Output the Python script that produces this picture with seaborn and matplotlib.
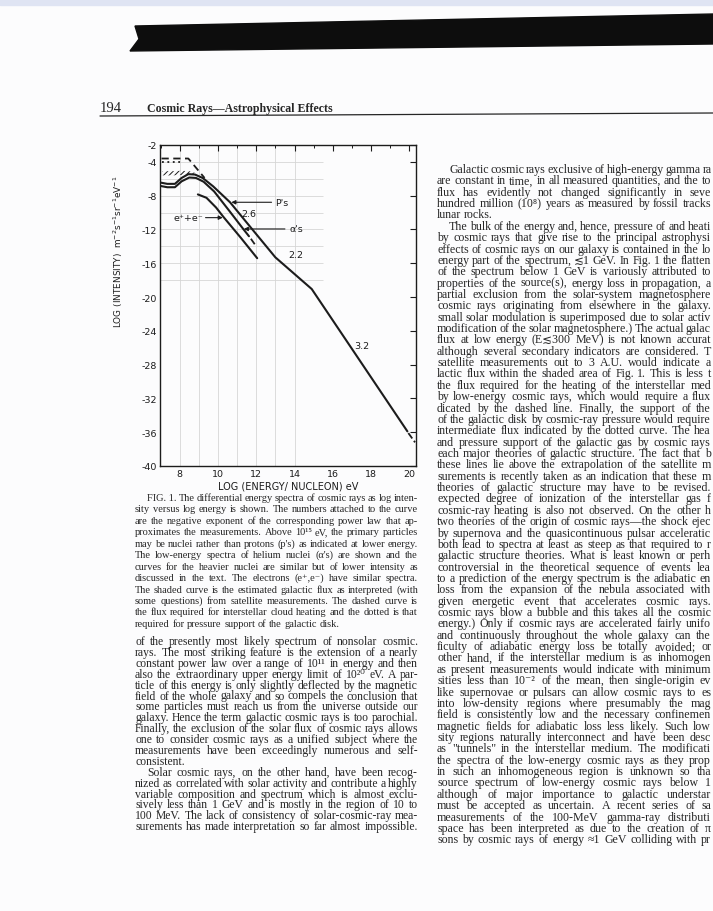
import matplotlib
matplotlib.use("Agg")
import matplotlib.pyplot as plt
import seaborn as sns
from matplotlib.patches import Polygon, Rectangle
from matplotlib.lines import Line2D

# ---- chart data (log10 energy per nucleon, log10 intensity) ----
protons_x = [7.0, 7.35, 7.75, 8.1, 8.45, 8.8, 9.2, 9.75, 10.63, 11.49, 13.0, 14.9, 19.9]
protons_y = [-6.45, -6.6, -6.6, -5.9, -5.45, -5.5, -5.9, -6.9, -8.78, -11.15, -15.3, -19.05, -35.9]
protons_ext_x = [19.95, 20.3]
protons_ext_y = [-36.1, -37.2]

alphas_x = [7.0, 7.35, 7.75, 8.1, 8.5, 8.85, 9.25, 9.8, 10.6, 11.32, 11.62]
alphas_y = [-6.85, -7.0, -7.0, -6.3, -5.85, -5.9, -6.35, -7.5, -9.82, -11.94, -12.8]
alphas_ext_x = [11.72, 12.0]
alphas_ext_y = [-13.1, -14.0]

electrons_x = [8.95, 9.4, 9.9, 10.28, 11.2, 12.05]
electrons_y = [-7.85, -8.25, -9.4, -10.5, -13.0, -15.4]

shade_x = [7.1, 7.6, 8.1, 8.5, 8.8]
shade_top = [-5.1, -5.1, -5.05, -5.1, -5.3]
shade_bot = [-5.6, -5.6, -5.55, -5.45, -5.4]

heating_x = [7.05, 8.45, 9.3]        # dashed
heating_y = [-3.6, -3.6, -5.9]
pressure_x = [7.05, 8.1]             # dotted
pressure_y = [-4.05, -4.05]

xtick_vals = [8, 10, 12, 14, 16, 18, 20]
ytick_vals = [-2, -4, -8, -12, -16, -20, -24, -28, -32, -36, -40]

# ---- page text ----
caption = [
    "FIG.\u00a01.  The differential energy spectra of cosmic rays as log inten-",
    "sity versus log energy is shown. The numbers attached to the curve",
    "are the negative exponent of the corresponding power law that ap-",
    "proximates the measurements. Above 10\u00b9\u2075 eV, the primary particles",
    "may be nuclei rather than protons (p's) as indicated at lower energy.",
    "The low-energy spectra of helium nuclei (\u03b1's) are shown and the",
    "curves for the heavier nuclei are similar but of lower intensity as",
    "discussed in the text. The electrons (e\u207a,e\u207b) have similar spectra.",
    "The shaded curve is the estimated galactic flux as interpreted (with",
    "some questions) from satellite measurements. The dashed curve is",
    "the flux required for interstellar cloud heating and the dotted is that",
    "required for pressure support of the galactic disk.",
]
body_left = [
    "of the presently most likely spectrum of nonsolar cosmic.",
    "rays. The most striking feature is the extension of a nearly",
    "constant power law over a range of 10\u00b9\u00b9 in energy and then",
    "also the extraordinary upper energy limit of 10\u00b2\u2070 eV. A par-",
    "ticle of this energy is only slightly deflected by the magnetic",
    "field of the whole galaxy and so compels the conclusion that",
    "some particles must reach us from the universe outside our",
    "galaxy. Hence the term galactic cosmic rays is too parochial.",
    "Finally, the exclusion of the solar flux of cosmic rays allows",
    "one to consider cosmic rays as a unified subject where the",
    "measurements have been exceedingly numerous and self-",
    "consistent.",
    "Solar cosmic rays, on the other hand, have been recog-",
    "nized as correlated with solar activity and contribute a highly",
    "variable composition and spectrum which is almost exclu-",
    "sively less than 1 GeV and is mostly in the region of 10 to",
    "100 MeV. The lack of consistency of solar-cosmic-ray mea-",
    "surements has made interpretation so far almost impossible.",
]
body_right = [
    "Galactic cosmic rays exclusive of high-energy gamma ra",
    "are constant in time, in all measured quantities, and the to",
    "flux has evidently not changed significantly in seve",
    "hundred million (10\u2078) years as measured by fossil tracks",
    "lunar rocks.",
    "The bulk of the energy and, hence, pressure of and heati",
    "by cosmic rays that give rise to the principal astrophysi",
    "effects of cosmic rays on our galaxy is contained in the lo",
    "energy part of the spectrum, \u22721 GeV. In Fig. 1 the flatten",
    "of the spectrum below 1 GeV is variously attributed to",
    "properties of the source(s), energy loss in propagation, a",
    "partial exclusion from the solar-system magnetosphere",
    "cosmic rays originating from elsewhere in the galaxy.",
    "small solar modulation is superimposed due to solar activ",
    "modification of the solar magnetosphere.) The actual galac",
    "flux at low energy (E\u2272300 MeV) is not known accurat",
    "although several secondary indicators are considered. T",
    "satellite measurements out to 3 A.U. would indicate a",
    "lactic flux within the shaded area of Fig. 1. This is less t",
    "the flux required for the heating of the interstellar med",
    "by low-energy cosmic rays, which would require a flux",
    "dicated by the dashed line. Finally, the support of the",
    "of the galactic disk by cosmic-ray pressure would require",
    "intermediate flux indicated by the dotted curve. The hea",
    "and pressure support of the galactic gas by cosmic rays",
    "each major theories of galactic structure. The fact that b",
    "these lines lie above the extrapolation of the satellite m",
    "surements is recently taken as an indication that these m",
    "theories of galactic structure may have to be revised.",
    "expected degree of ionization of the interstellar gas f",
    "cosmic-ray heating is also not observed. On the other h",
    "two theories of the origin of cosmic rays\u2014the shock ejec",
    "by supernova and the quasicontinuous pulsar acceleratic",
    "both lead to spectra at least as steep as that required to r",
    "galactic structure theories. What is least known or perh",
    "controversial in the theoretical sequence of events lea",
    "to a prediction of the energy spectrum is the adiabatic en",
    "loss from the expansion of the nebula associated with",
    "given energetic event that accelerates cosmic rays.",
    "cosmic rays blow a bubble and this takes all the cosmic",
    "energy.) Only if cosmic rays are accelerated fairly unifo",
    "and continuously throughout the whole galaxy can the",
    "ficulty of adiabatic energy loss be totally avoided; or",
    "other hand, if the interstellar medium is as inhomogen",
    "as present measurements would indicate with minimum",
    "sities less than 10\u207b\u00b2 of the mean, then single-origin ev",
    "like supernovae or pulsars can allow cosmic rays to es",
    "into low-density regions where presumably the mag",
    "field is consistently low and the necessary confinemen",
    "magnetic fields for adiabatic loss less likely. Such low",
    "sity regions naturally interconnect and have been desc",
    "as \"tunnels\" in the interstellar medium. The modificati",
    "the spectra of the low-energy cosmic rays as they prop",
    "in such an inhomogeneous region is unknown so tha",
    "source spectrum of low-energy cosmic rays below 1",
    "although of major importance to galactic understar",
    "must be accepted as uncertain. A recent series of sa",
    "measurements of the 100-MeV gamma-ray distributi",
    "space has been interpreted as due to the creation of \u03c0",
    "sons by cosmic rays of energy \u22481 GeV colliding with pr",
]

W, H = 713, 912
INK = "#1c1c1c"
TXT = "#262626"
SERIF = ["Liberation Serif", "DejaVu Serif", "DejaVu Sans"]


def fx(x):
    return x / W


def fy(y):
    return 1 - y / H


sns.set_style("white")
plt.rcParams["font.family"] = ["DejaVu Sans"]
plt.rcParams["hatch.linewidth"] = 0.7

fig = plt.figure(figsize=(W / 100, H / 100), dpi=100, facecolor="#fcfcfd")
renderer = fig.canvas.get_renderer()

# scanner artefacts: tinted strip and the black band at the top
fig.patches.append(Rectangle((0, fy(6)), 1, 6 / H, transform=fig.transFigure,
                             color="#dfe4f3", zorder=0))
band = [(135, 27), (713, 15), (713, 45), (130, 52), (139, 40)]
fig.patches.append(Polygon([(fx(a), fy(b)) for a, b in band], closed=True,
                           transform=fig.transFigure, color="#0d0d0d", zorder=1))

# running head
fig.text(fx(100), fy(112), "194", fontsize=10.5, family=SERIF, color=TXT, va="baseline")
fig.text(fx(147), fy(112), "Cosmic Rays\u2014Astrophysical Effects", fontsize=8.6,
         family=SERIF, weight="bold", color=TXT, va="baseline")
fig.add_artist(Line2D([fx(100), fx(713)], [fy(117), fy(114)], lw=0.9, color=TXT))

# ---- the figure ----
ax = fig.add_axes([fx(160), fy(467), (416 - 160) / W, (467 - 146) / H])
ax.set_facecolor("none")

ax.vlines(range(8, 15), -40, -2, color="#d6d6d6", lw=0.6, zorder=0)
ax.hlines(range(-18, -2, 2), 6.97, 15.5, color="#d6d6d6", lw=0.6, zorder=0)

ax.fill_between(shade_x, shade_bot, shade_top, facecolor="none", edgecolor=INK,
                hatch="//////", lw=0)
sns.lineplot(x=protons_x, y=protons_y, ax=ax, color=INK, lw=1.5, sort=False, estimator=None)
sns.lineplot(x=protons_ext_x, y=protons_ext_y, ax=ax, color=INK, lw=1.3, linestyle="--",
             sort=False, estimator=None)
sns.lineplot(x=alphas_x, y=alphas_y, ax=ax, color=INK, lw=1.5, sort=False, estimator=None)
sns.lineplot(x=alphas_ext_x, y=alphas_ext_y, ax=ax, color=INK, lw=1.3, linestyle="--",
             sort=False, estimator=None)
sns.lineplot(x=electrons_x, y=electrons_y, ax=ax, color=INK, lw=1.5, sort=False, estimator=None)
sns.lineplot(x=heating_x, y=heating_y, ax=ax, color=INK, lw=1.3, linestyle=(0, (4, 2.5)),
             sort=False, estimator=None)
sns.lineplot(x=pressure_x, y=pressure_y, ax=ax, color=INK, lw=1.3, linestyle=(0, (1, 2)),
             sort=False, estimator=None)

arrow = dict(arrowstyle="-|>", color=INK, lw=0.8, mutation_scale=6, shrinkA=0, shrinkB=0)
lab = dict(fontsize=6.8, color=INK, va="center")
ax.annotate("", xy=(10.7, -8.78), xytext=(12.8, -8.78), arrowprops=arrow)
ax.text(13.0, -8.78, "P's", **lab)
ax.text(11.2, -10.1, "2.6", **lab)
ax.annotate("", xy=(11.35, -11.94), xytext=(13.5, -11.94), arrowprops=arrow)
ax.text(13.75, -11.94, "\u03b1's", **lab)
ax.annotate("", xy=(10.25, -10.6), xytext=(9.35, -10.6), arrowprops=arrow)
ax.text(7.7, -10.6, "e\u207a+e\u207b", **lab)
ax.text(13.65, -15.0, "2.2", **lab)
ax.text(17.1, -25.75, "3.2", **lab)

ax.set_xlim(6.97, 20.35)
ax.set_ylim(-40, -2)
ax.set_xticks(xtick_vals)
ax.set_xticklabels([str(v) for v in xtick_vals])
ax.set_xticks(range(7, 21), minor=True)
ax.set_yticks(ytick_vals)
ax.set_yticklabels(["-%d" % abs(v) for v in ytick_vals])
ax.tick_params(which="both", direction="in", top=True, right=True, color=INK,
               labelsize=6.8, labelcolor=INK, pad=2)
ax.tick_params(which="major", length=4, width=0.8)
ax.tick_params(which="minor", length=2.5, width=0.7)
for s in ax.spines.values():
    s.set_color(INK)
    s.set_linewidth(1.0)
ax.set_xlabel("LOG (ENERGY/ NUCLEON) eV", fontsize=7, color=INK, labelpad=2)
ax.set_ylabel("LOG (INTENSITY)  m$^{-2}$s$^{-1}$sr$^{-1}$eV$^{-1}$", fontsize=6.4, color=INK)
ax.yaxis.set_label_coords(-0.135, 0.67)


# ---- text columns, justified word by word ----
def put_line(s, x0, x1, y, size, justify=True):
    words = [w for w in s.split(" ") if w]
    base = fy(y + 3)
    arts = [fig.text(0, base, w, fontsize=size, family=SERIF, color=TXT,
                     va="baseline") for w in words]
    widths = [a.get_window_extent(renderer).width for a in arts]
    space = size * 0.25 * 100 / 72
    need = sum(widths) + (len(words) - 1) * 0.6 * space
    if need > x1 - x0:
        k = (x1 - x0) / need
        for a in arts:
            a.set_fontsize(size * k)
        widths = [a.get_window_extent(renderer).width for a in arts]
        space *= k
    gap = space
    if justify and len(words) > 1:
        gap = (x1 - x0 - sum(widths)) / (len(words) - 1)
        gap = max(min(gap, 3.2 * space), 0.6 * space)
    x = x0
    for a, w in zip(arts, widths):
        a.set_x(fx(x))
        x += w + gap


def put_block(lines, x0, x1, y0, step, size, indents=(), ends=()):
    for i, line in enumerate(lines):
        start = x0 + (12 if i in indents else 0)
        put_line(line, start, x1, y0 + i * step, size, justify=i not in ends)


put_block(caption, 135, 418, 498, 11.45, 7.5, indents=(0,), ends=(11,))
put_block(body_left, 135, 418, 642, 10.9, 8.4, indents=(12,), ends=(11,))
put_block(body_right, 437, 711, 170, 11.36, 8.6, indents=(0, 5), ends=(4,))

fig.savefig("out.png", dpi=100, facecolor=fig.get_facecolor())
